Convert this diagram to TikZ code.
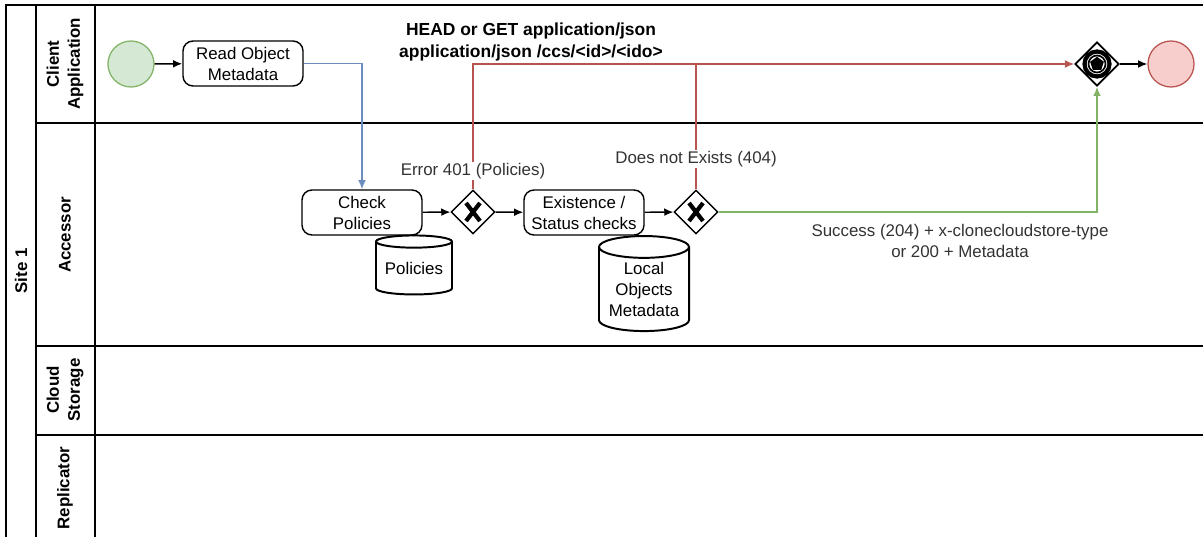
\documentclass[tikz,border=0pt]{standalone}
\usepackage{fontspec}
\setmainfont{Liberation Sans}
\usetikzlibrary{shapes.geometric, positioning, arrows.meta}
\definecolor{dio-red}{RGB}{184,84,80}
\definecolor{dio-green}{RGB}{130,179,102}
\definecolor{dio-blue}{RGB}{108,142,191}
\definecolor{dio-redfill}{RGB}{248,206,204}
\definecolor{dio-greenfill}{RGB}{213,232,212}
\definecolor{dio-text}{RGB}{51,51,51}

\begin{document}
\begin{tikzpicture}[x=0.025cm, y=-0.025cm, font=\fontsize{12}{14.9}\selectfont]
  \tikzset{ lane/.style   ={draw=black, line width=1pt} }
  \tikzset{ lanelbl/.style={rotate=90, align=center, font=\fontsize{12}{14.9}\selectfont\bfseries} }
  \tikzset{ start/.style  ={circle, draw=dio-green, fill=dio-greenfill, line width=0.9pt, minimum size=1.15cm} }
  \tikzset{ stop/.style   ={circle, draw=dio-red, fill=dio-redfill, line width=0.9pt, minimum size=1.15cm} }
  \tikzset{ task/.style   ={draw=black, rounded corners=0.25cm, line width=1pt, fill=white, align=center, minimum width=3cm, minimum height=1.125cm, inner sep=0pt} }
  \tikzset{ store/.style  ={cylinder, shape border rotate=90, draw=black, line width=1.4pt, fill=white, align=center, inner sep=0pt} }
  \tikzset{ xgate/.style  ={diamond, draw=black, line width=1pt, fill=white, minimum size=1.1cm, inner sep=0pt,
                            path picture={\draw[line width=3pt] ([shift={(-7,-9)}]path picture bounding box.center) -- ([shift={(7,9)}]path picture bounding box.center);
                                          \draw[line width=3pt] ([shift={(-7,9)}]path picture bounding box.center) -- ([shift={(7,-9)}]path picture bounding box.center);}} }
  \tikzset{ evgate/.style ={diamond, draw=black, line width=1.2pt, fill=white, minimum size=1.1cm, inner sep=0pt,
                            path picture={\draw[line width=3pt] (path picture bounding box.center) circle (12.5);
                                          \draw[line width=1.2pt] (path picture bounding box.center) circle (8.5);
                                          \node[regular polygon, regular polygon sides=5, fill=black, inner sep=0pt, minimum size=0.36cm] at (path picture bounding box.center) {};}} }
  \tikzset{ flow/.style   ={->, >={Latex[length=6.5pt, width=5.5pt]}, line width=1pt} }
  \tikzset{ lbl/.style    ={text=dio-text, fill=white, align=center, inner sep=1pt} }

  \path[use as bounding box] (0,0) rectangle (1203,537);

  \draw[lane] (1210,5) -- (6,5) -- (6,545);
  \draw[lane] (36,5) -- (36,545);
  \draw[lane] (95,5) -- (95,545);
  \draw[lane] (36,123) -- (1210,123);
  \draw[lane] (36,346) -- (1210,346);
  \draw[lane] (36,435) -- (1210,435);

  \node[lanelbl] (site) at (21,271) {Site 1};
  \node[lanelbl] (lca)  at (65,64)  {Client\\Application};
  \node[lanelbl] (lacc) at (65,235) {Accessor};
  \node[lanelbl] (lcs)  at (65,390) {Cloud\\Storage};
  \node[lanelbl] (lrep) at (65,488) {Replicator};

  \node[start] (start) at (131,64)    {};
  \node[task]  (read)  at (243,63.5)  {Read Object\\Metadata};
  \node[task]  (chk)   at (362,212.5) {Check\\Policies};
  \node[store, minimum width=1.9cm, minimum height=1.475cm, aspect=0.21] (pol) at (414,268.5) {Policies};
  \node[xgate] (gw1)   at (473,212)   {};
  \node[task]  (exist) at (584,212.5) {Existence /\\Status checks};
  \node[store, minimum width=2.25cm, minimum height=2.375cm, aspect=0.31] (loc) at (644,289.5) {Local\\Objects\\Metadata};
  \node[xgate] (gw2)   at (696,212)   {};
  \node[evgate] (gw3)  at (1097,64)   {};
  \node[stop]  (stop)  at (1171,64)   {};

  \coordinate (join) at (gw2.north |- gw3.west);

  \draw[flow] (start) -- (read);
  \draw[flow, dio-blue] (read.east) -| (chk.north);
  \draw[flow] (chk) -- (gw1);
  \draw[flow] (gw1) -- (exist);
  \draw[flow] (exist) -- (gw2);
  \draw[flow, dio-red] (gw1.north) |- (gw3.west);
  \draw[line width=1pt, dio-red] (gw2.north) -- (join);
  \draw[flow, dio-green] (gw2.east) -| (gw3.south);
  \draw[flow] (gw3) -- (stop);

  \node[lbl] (e401) at (473,171) {Error 401 (Policies)};
  \node[lbl] (e404) at (696,159) {Does not Exists (404)};
  \node[lbl] (ok)   at (960,241) {Success (204) + x-clonecloudstore-type\\or 200 + Metadata};
  \node[align=center, font=\fontsize{12.4}{15}\selectfont\bfseries] (req) at (531,42) {HEAD or GET application/json\\application/json /ccs/<id>/<ido>};
\end{tikzpicture}
\end{document}
